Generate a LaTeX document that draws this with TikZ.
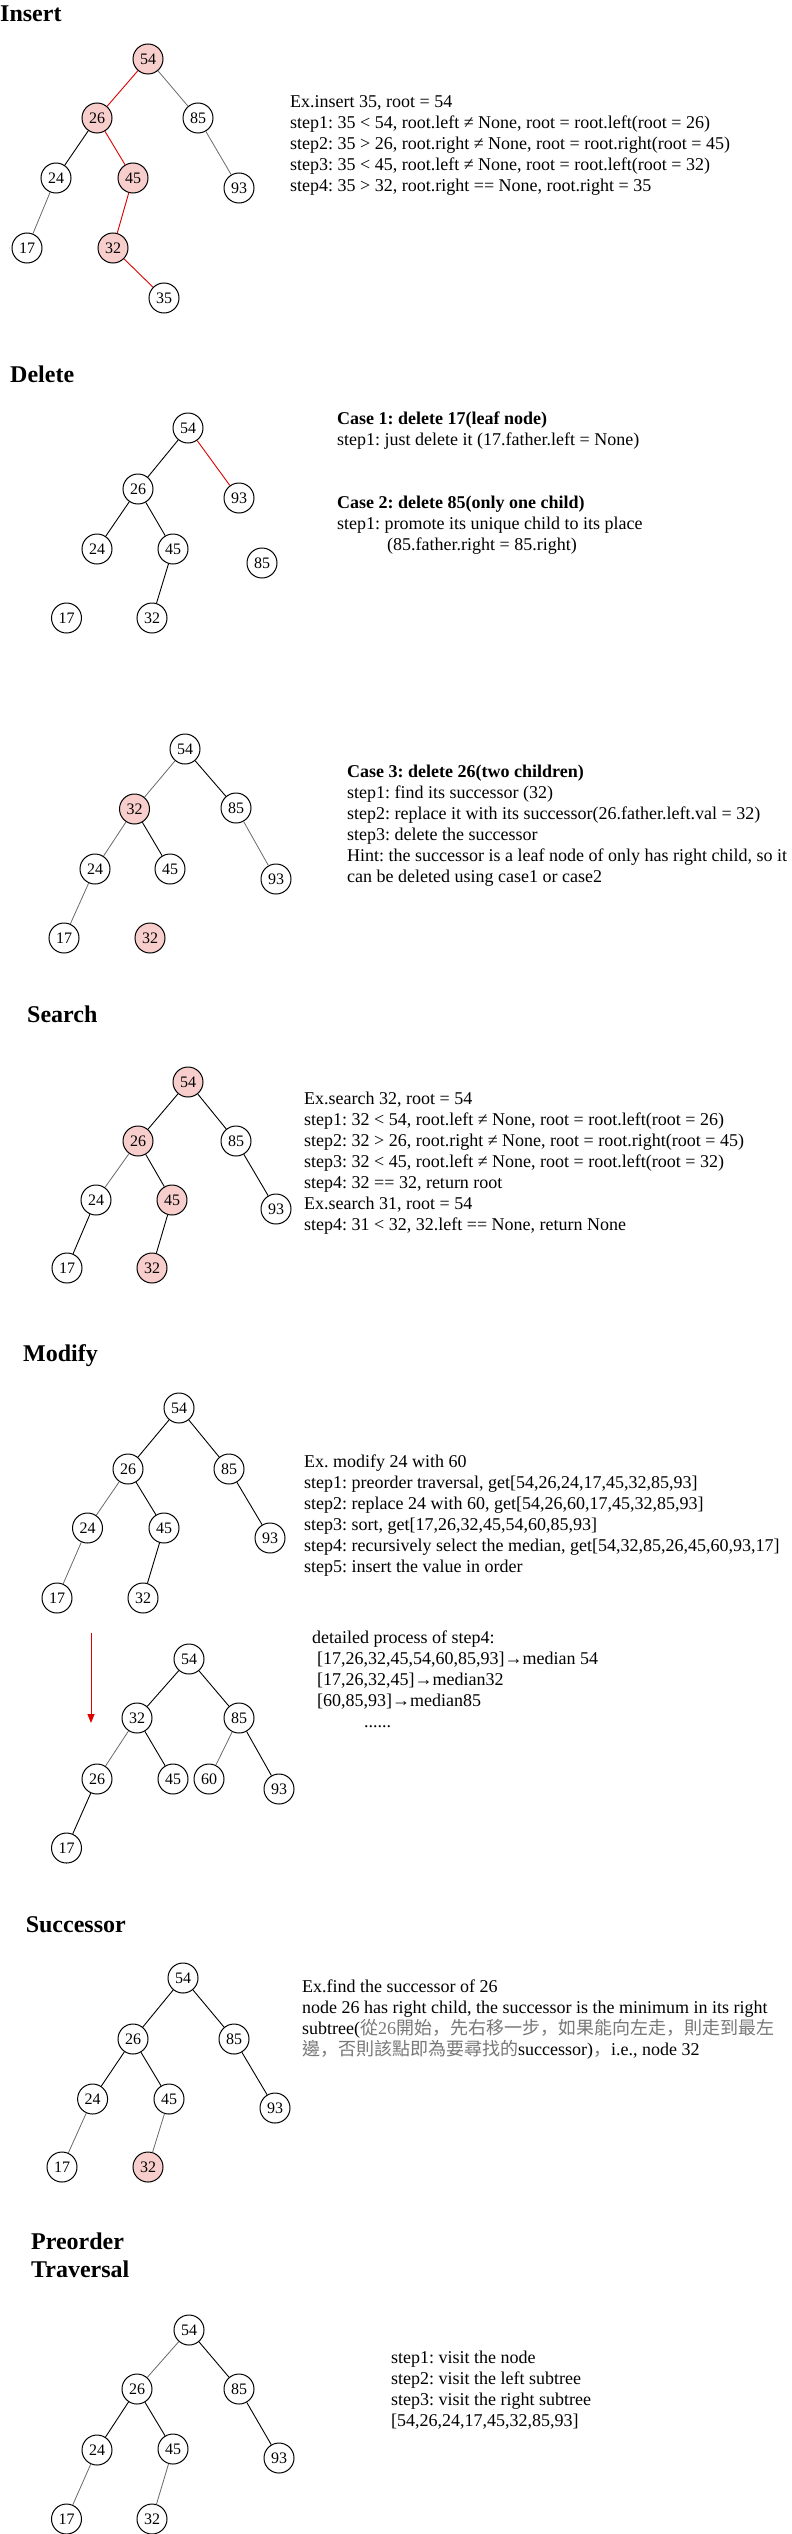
\documentclass[tikz,border=0pt]{standalone}
\usepackage{fontspec}
\setmainfont{Liberation Serif}
\newfontfamily\cjk{Noto Sans CJK TC}
\newfontfamily\cjksc{Noto Sans CJK SC}
\usetikzlibrary{arrows.meta}
\definecolor{pinkfill}{HTML}{F8CECC}
\definecolor{redline}{HTML}{E00000}
\definecolor{lightedge}{HTML}{6A6A6A}
\definecolor{cjkgray}{HTML}{787878}
\frenchspacing
\newcommand\cjkcell[1]{\makebox[18pt][c]{\cjk\color{cjkgray}#1}}
\newcommand\cjkcomma{\makebox[18pt][l]{\cjksc\color{cjkgray}，}}
\def\cjkrun#1{\ifx\relax#1\else\ifx，#1\cjkcomma\else\cjkcell{#1}\fi\expandafter\cjkrun\fi}
\tikzset{
  nd/.style={circle,draw=black,line width=1pt,minimum size=30pt,inner sep=0pt,fill=white,font=\fontsize{16}{19}\selectfont},
  pk/.style={nd,fill=pinkfill},
  eb/.style={draw=black,line width=0.9pt},
  eg/.style={draw=lightedge,line width=0.8pt},
  er/.style={draw=redline,line width=0.9pt},
  txt/.style={anchor=north west,inner sep=0pt,align=left,font=\fontsize{18}{21}\selectfont\frenchspacing},
  ttl/.style={anchor=base west,inner sep=0pt,font=\fontsize{24}{28}\selectfont\bfseries},
}
\begin{document}
\begin{tikzpicture}[x=1pt,y=-1pt]
\useasboundingbox[fill=white] (0,0) rectangle (792,2534);

% ---------------- Insert ----------------
\node[ttl] (tInsert) at (0,22) {Insert};
\node[pk] (i54) at (148,59) {54};
\node[pk] (i26) at (97,118) {26};
\node[nd] (i85) at (198,118) {85};
\node[nd] (i24) at (56,178) {24};
\node[pk] (i45) at (133,178) {45};
\node[nd] (i93) at (239,188) {93};
\node[nd] (i17) at (27,248) {17};
\node[pk] (i32) at (113,248) {32};
\node[nd] (i35) at (164,298) {35};
\draw[er] (i54) -- (i26);
\draw[eg] (i54) -- (i85);
\draw[eb] (i26) -- (i24);
\draw[er] (i26) -- (i45);
\draw[eg] (i85) -- (i93);
\draw[eg] (i24) -- (i17);
\draw[er] (i45) -- (i32);
\draw[er] (i32) -- (i35);
\node[txt] (iText) at (290,92.6) {\strut Ex.insert 35, root = 54\\
step1: 35 < 54, root.left ≠ None, root = root.left(root = 26)\\
step2: 35 > 26, root.right ≠ None, root = root.right(root = 45)\\
step3: 35 < 45, root.left ≠ None, root = root.left(root = 32)\\
step4: 35 > 32, root.right == None, root.right = 35};

% ---------------- Delete ----------------
\node[ttl] (tDelete) at (10,382) {Delete};
\node[nd] (d54) at (188,428) {54};
\node[nd] (d26) at (138,489) {26};
\node[nd] (d93) at (239,498) {93};
\node[nd] (d24) at (97,549) {24};
\node[nd] (d45) at (173,549) {45};
\node[nd] (d85) at (262,563) {85};
\node[nd] (d17) at (66.5,618) {17};
\node[nd] (d32) at (152,618) {32};
\draw[eb] (d54) -- (d26);
\draw[er] (d54) -- (d93);
\draw[eb] (d26) -- (d24);
\draw[eb] (d26) -- (d45);
\draw[eb] (d45) -- (d32);
\node[txt] (dText1) at (337,409.8) {\strut\textbf{Case 1: delete 17(leaf node)}\\
step1: just delete it (17.father.left = None)};
\node[txt] (dText2) at (337,493.8) {\strut\textbf{Case 2: delete 85(only one child)}\\
step1: promote its unique child to its place\\
\hspace*{50pt}(85.father.right = 85.right)};

% Case 3
\node[nd] (e54) at (185,749) {54};
\node[pk] (e32) at (134.5,809) {32};
\node[nd] (e85) at (236,808) {85};
\node[nd] (e24) at (95,869) {24};
\node[nd] (e45) at (170,869) {45};
\node[nd] (e93) at (276,879) {93};
\node[nd] (e17) at (64,938) {17};
\node[pk] (e32b) at (150,938) {32};
\draw[eg] (e54) -- (e32);
\draw[eb] (e54) -- (e85);
\draw[eg] (e32) -- (e24);
\draw[eb] (e32) -- (e45);
\draw[eg] (e85) -- (e93);
\draw[eg] (e24) -- (e17);
\node[txt] (eText) at (347,762.8) {\strut\textbf{Case 3: delete 26(two children)}\\
step1: find its successor (32)\\
step2: replace it with its successor(26.father.left.val = 32)\\
step3: delete the successor\\
Hint: the successor is a leaf node of only has right child, so it\\
can be deleted using case1 or case2};

% ---------------- Search ----------------
\node[ttl] (tSearch) at (27,1022) {Search};
\node[pk] (s54) at (188,1082) {54};
\node[pk] (s26) at (138,1141) {26};
\node[nd] (s85) at (236,1141) {85};
\node[nd] (s24) at (96,1200) {24};
\node[pk] (s45) at (172,1200) {45};
\node[nd] (s93) at (276,1209) {93};
\node[nd] (s17) at (67,1268) {17};
\node[pk] (s32) at (152,1268) {32};
\draw[eb] (s54) -- (s26);
\draw[eb] (s54) -- (s85);
\draw[eg] (s26) -- (s24);
\draw[eb] (s26) -- (s45);
\draw[eb] (s85) -- (s93);
\draw[eb] (s24) -- (s17);
\draw[eb] (s45) -- (s32);
\node[txt] (sText) at (304,1089.8) {\strut Ex.search 32, root = 54\\
step1: 32 < 54, root.left ≠ None, root = root.left(root = 26)\\
step2: 32 > 26, root.right ≠ None, root = root.right(root = 45)\\
step3: 32 < 45, root.left ≠ None, root = root.left(root = 32)\\
step4: 32 == 32, return root\\
Ex.search 31, root = 54\\
step4: 31 < 32, 32.left == None, return None};

% ---------------- Modify ----------------
\node[ttl] (tModify) at (23,1361) {Modify};
\node[nd] (m54) at (179,1408) {54};
\node[nd] (m26) at (128,1469) {26};
\node[nd] (m85) at (229,1469) {85};
\node[nd] (m24) at (87.5,1528) {24};
\node[nd] (m45) at (164,1528) {45};
\node[nd] (m93) at (270,1538) {93};
\node[nd] (m17) at (57,1598) {17};
\node[nd] (m32) at (143,1598) {32};
\draw[eb] (m54) -- (m26);
\draw[eb] (m54) -- (m85);
\draw[eg] (m26) -- (m24);
\draw[eb] (m26) -- (m45);
\draw[eb] (m85) -- (m93);
\draw[eg] (m24) -- (m17);
\draw[eb] (m45) -- (m32);
\node[txt] (mText) at (304,1452.8) {\strut Ex. modify 24 with 60\\
step1: preorder traversal, get[54,26,24,17,45,32,85,93]\\
step2: replace 24 with 60, get[54,26,60,17,45,32,85,93]\\
step3: sort, get[17,26,32,45,54,60,85,93]\\
step4: recursively select the median, get[54,32,85,26,45,60,93,17]\\
step5: insert the value in order};

\coordinate (arrTop) at (91,1633);
\coordinate (arrBot) at (91,1723);
\draw[draw=redline,line width=1pt,-{Triangle[length=9pt,width=7pt]}] (arrTop) -- (arrBot);

\node[nd] (n54) at (189,1659) {54};
\node[nd] (n32) at (137,1718) {32};
\node[nd] (n85) at (239,1718) {85};
\node[nd] (n26) at (97,1779) {26};
\node[nd] (n45) at (173,1779) {45};
\node[nd] (n60) at (209,1779) {60};
\node[nd] (n93) at (279,1789) {93};
\node[nd] (n17) at (66.5,1848) {17};
\draw[eb] (n54) -- (n32);
\draw[eb] (n54) -- (n85);
\draw[eg] (n32) -- (n26);
\draw[eb] (n32) -- (n45);
\draw[eg] (n85) -- (n60);
\draw[eb] (n85) -- (n93);
\draw[eb] (n26) -- (n17);
\node[txt] (nText) at (312,1628.8) {\strut detailed process of step4:\\
\hspace*{5pt}[17,26,32,45,54,60,85,93]→median 54\\
\hspace*{5pt}[17,26,32,45]→median32\\
\hspace*{5pt}[60,85,93]→median85\\
\hspace*{52pt}......};

% ---------------- Successor ----------------
\node[ttl] (tSucc) at (25.6,1932) {Successor};
\node[nd] (u54) at (183,1978) {54};
\node[nd] (u26) at (133,2039) {26};
\node[nd] (u85) at (234,2039) {85};
\node[nd] (u24) at (92.6,2099) {24};
\node[nd] (u45) at (169,2099) {45};
\node[nd] (u93) at (275,2108) {93};
\node[nd] (u17) at (62,2167) {17};
\node[pk] (u32) at (148,2167) {32};
\draw[eb] (u54) -- (u26);
\draw[eb] (u54) -- (u85);
\draw[eb] (u26) -- (u24);
\draw[eb] (u26) -- (u45);
\draw[eb] (u85) -- (u93);
\draw[eg] (u24) -- (u17);
\draw[eg] (u45) -- (u32);
\node[txt] (uText) at (302,1977.8) {\strut Ex.find the successor of 26\\
node 26 has right child, the successor is the minimum in its right\\
subtree(\cjkrun 從\relax{\color{cjkgray}26}\cjkrun 開始，先右移一步，如果能向左走，則走到最左\relax\\
\cjkrun 邊，否則該點即為要尋找的\relax successor)\cjkrun ，\relax i.e., node 32};

% ---------------- Preorder Traversal ----------------
\node[ttl,align=left] (tPre) at (31,2277) {Preorder\\Traversal};
\node[nd] (p54) at (189,2330) {54};
\node[nd] (p26) at (137,2389) {26};
\node[nd] (p85) at (239,2389) {85};
\node[nd] (p24) at (97,2450) {24};
\node[nd] (p45) at (173,2449) {45};
\node[nd] (p93) at (279,2458) {93};
\node[nd] (p17) at (66.5,2519) {17};
\node[nd] (p32) at (152,2519) {32};
\draw[eg] (p54) -- (p26);
\draw[eb] (p54) -- (p85);
\draw[eb] (p26) -- (p24);
\draw[eb] (p26) -- (p45);
\draw[eb] (p85) -- (p93);
\draw[eg] (p24) -- (p17);
\draw[eg] (p45) -- (p32);
\node[txt] (pText) at (391,2348.8) {\strut step1: visit the node\\
step2: visit the left subtree\\
step3: visit the right subtree\\
{[}54,26,24,17,45,32,85,93]};
\end{tikzpicture}
\end{document}
